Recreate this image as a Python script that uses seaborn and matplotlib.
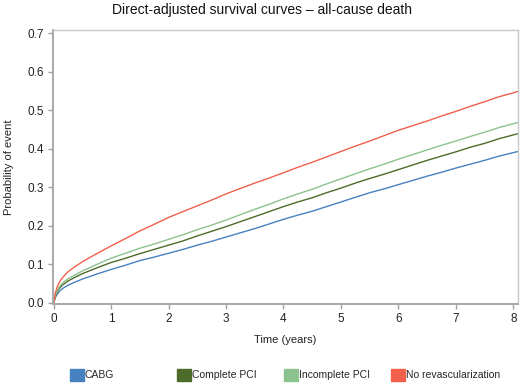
import pandas as pd
import matplotlib.pyplot as plt
import seaborn as sns
from matplotlib.patches import Patch


sns.set_style("ticks")
plt.rcParams["font.family"] = ["Liberation Sans", "DejaVu Sans"]


time_years = [0, 0.03, 0.06, 0.1, 0.15, 0.25, 0.35, 0.5, 0.75, 1.0, 1.25, 1.5, 1.75,
              2.0, 2.25, 2.5, 2.75, 3.0, 3.25, 3.5, 3.75, 4.0, 4.25, 4.5, 4.75,
              5.0, 5.25, 5.5, 5.75, 6.0, 6.25, 6.5, 6.75, 7.0, 7.25, 7.5, 7.75, 8.0, 8.08]

cabg = [0, 0.014, 0.022, 0.030, 0.037, 0.046, 0.053, 0.062, 0.075, 0.087, 0.098, 0.110, 0.119,
        0.129, 0.139, 0.150, 0.160, 0.171, 0.182, 0.193, 0.205, 0.217, 0.228, 0.238, 0.250,
        0.262, 0.274, 0.286, 0.296, 0.307, 0.318, 0.329, 0.339, 0.350, 0.360, 0.370, 0.381, 0.390, 0.393]

complete_pci = [0, 0.017, 0.028, 0.038, 0.046, 0.057, 0.065, 0.076, 0.091, 0.105, 0.116, 0.128, 0.139,
                0.150, 0.161, 0.174, 0.186, 0.198, 0.211, 0.224, 0.237, 0.250, 0.262, 0.273, 0.286,
                0.298, 0.311, 0.323, 0.334, 0.346, 0.358, 0.370, 0.381, 0.392, 0.404, 0.414, 0.426, 0.436, 0.439]

incomplete_pci = [0, 0.019, 0.031, 0.042, 0.051, 0.063, 0.071, 0.083, 0.100, 0.116, 0.129, 0.142, 0.153,
                  0.165, 0.177, 0.190, 0.202, 0.215, 0.229, 0.243, 0.256, 0.270, 0.283, 0.295, 0.309,
                  0.322, 0.335, 0.348, 0.360, 0.373, 0.385, 0.397, 0.409, 0.420, 0.432, 0.443, 0.455, 0.465, 0.468]

no_revasc = [0, 0.026, 0.041, 0.054, 0.065, 0.081, 0.092, 0.107, 0.128, 0.148, 0.167, 0.187, 0.204,
             0.222, 0.237, 0.252, 0.267, 0.283, 0.297, 0.311, 0.324, 0.338, 0.352, 0.365, 0.379,
             0.393, 0.407, 0.420, 0.434, 0.448, 0.460, 0.472, 0.485, 0.497, 0.510, 0.522, 0.535, 0.545, 0.549]

groups = ["CABG", "Complete PCI", "Incomplete PCI", "No revascularization"]
colors = ["#4682c0", "#4d6b2a", "#8cc28e", "#f0604a"]

df = pd.DataFrame({
    "Time": time_years * 4,
    "Probability": cabg + complete_pci + incomplete_pci + no_revasc,
    "Group": sum([[g] * len(time_years) for g in groups], []),
})

fig = plt.figure(figsize=(5.2, 3.85), dpi=100)
ax = fig.add_axes([0.102, 0.21, 0.894, 0.712])

sns.lineplot(data=df, x="Time", y="Probability", hue="Group", palette=colors,
             linewidth=1.0, legend=False, ax=ax)

ax.set_xlim(-0.01, 8.08)
ax.set_ylim(-0.003, 0.708)
ax.set_xticks(range(0, 9))
ax.set_yticks([0.0, 0.1, 0.2, 0.3, 0.4, 0.5, 0.6, 0.7])
ax.set_yticklabels(["0.0", "0.1", "0.2", "0.3", "0.4", "0.5", "0.6", "0.7"])
ax.set_xlabel("Time (years)", fontsize=8, color="#222222", labelpad=7)
ax.set_ylabel("Probability of event", fontsize=8, color="#222222", labelpad=10)
ax.tick_params(axis="both", direction="out", length=3.5, width=1, color="#a0a0a0",
               labelsize=8.5, labelcolor="#222222", pad=3)
for side in ["left", "bottom"]:
    ax.spines[side].set_color("#a8a8a8")
    ax.spines[side].set_linewidth(1.4)
for side in ["top", "right"]:
    ax.spines[side].set_visible(True)
    ax.spines[side].set_color("#c8c8c8")
    ax.spines[side].set_linewidth(1.0)

fig.suptitle("Direct-adjusted survival curves \u2013 all-cause death", fontsize=10,
             x=0.503, y=0.974, va="center", color="#111111")

x_positions = [0.135, 0.341, 0.547, 0.752]
for g, c, xp in zip(groups, colors, x_positions):
    fig.legend(handles=[Patch(facecolor=c, edgecolor=c)], labels=[g],
               loc="center left", bbox_to_anchor=(xp, 0.026), frameon=False,
               handlelength=1.3, handleheight=1.3, handletextpad=0.1,
               fontsize=7.5, borderaxespad=0, borderpad=0)

fig.savefig("out.png", dpi=100)
